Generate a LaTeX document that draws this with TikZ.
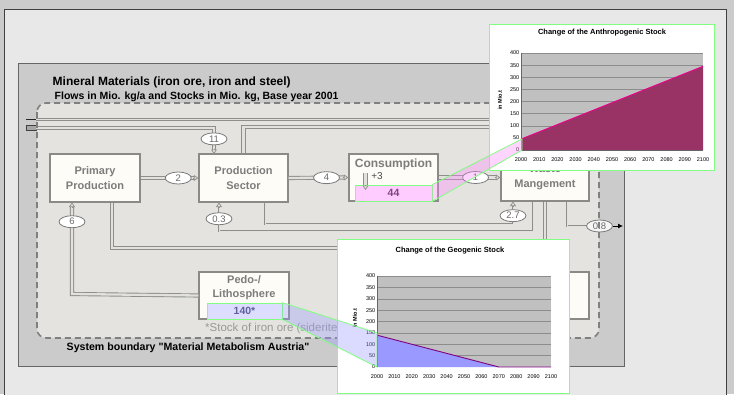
\documentclass[tikz,border=0pt]{standalone}
\usepackage{fontspec}
\setmainfont{Liberation Sans}
\newfontfamily\plainquote{Liberation Sans}
\usetikzlibrary{arrows.meta,shapes.geometric,calc}
\definecolor{bgout}{HTML}{CBCBCB}
\definecolor{panel}{HTML}{E8E8E8}
\definecolor{innerp}{HTML}{CBCBCB}
\definecolor{sysfill}{HTML}{E4E3DF}
\definecolor{sysline}{HTML}{808080}
\definecolor{boxfill}{HTML}{FDFCF7}
\definecolor{boxline}{HTML}{8A8A86}
\definecolor{boxtext}{HTML}{7C7C7C}
\definecolor{pipeline}{HTML}{8E8E8A}
\definecolor{pipefill}{HTML}{E2E1DD}
\definecolor{ellline}{HTML}{7A7A7A}
\definecolor{flowtext}{HTML}{6A6A6A}
\definecolor{hlgreen}{HTML}{80FF80}
\definecolor{pinkbox}{HTML}{FFCCFF}
\definecolor{pinkproj}{HTML}{FF88FF}
\definecolor{lavbox}{HTML}{DDDDFF}
\definecolor{lavproj}{HTML}{9999FF}
\definecolor{plotgray}{HTML}{C0C0C0}
\definecolor{gridgray}{HTML}{8C8C8C}
\definecolor{maroonfill}{HTML}{993366}
\definecolor{bluefill}{HTML}{9999FF}
\definecolor{purpleline}{HTML}{800080}
\begin{document}
\begin{tikzpicture}[x=1pt,y=-1pt,
  box/.style={draw=boxline, fill=boxfill, line width=1.3pt, align=center,
    font=\bfseries\fontsize{11}{15}\selectfont, text=boxtext, inner sep=0pt},
  boxlabel/.style={align=center, font=\bfseries\fontsize{11}{14}\selectfont, text=boxtext, inner sep=0pt},
  pipe/.style={draw=pipeline, line width=0.9pt, double=pipefill, double distance=2.3pt},
  thinpipe/.style={draw=pipeline, line width=0.6pt, double=pipefill, double distance=1pt},
  ptip/.style={draw=pipeline, line width=0.7pt, -{Triangle[length=4.5pt,width=6pt,fill=pipefill]}},
  flow/.style={ellipse, draw=ellline, fill=white, line width=0.8pt, minimum width=26pt,
    minimum height=12pt, inner sep=0pt, font=\fontsize{9.5}{10}\selectfont, text=flowtext},
  sysb/.style={draw=sysline, line width=1.6pt, dash pattern=on 6pt off 4pt, rounded corners=9pt},
  chartframe/.style={draw=hlgreen, fill=white, line width=1pt},
  clbl/.style={font=\fontsize{5.5}{6}\selectfont, inner sep=0.5pt},
  ctitle/.style={font=\bfseries\fontsize{7.5}{8}\selectfont, inner sep=0pt},
  grid line/.style={draw=gridgray, line width=0.5pt}
]
\useasboundingbox (0,0) rectangle (734,394);
\clip (0,0) rectangle (734,394);
% backgrounds
\fill[bgout] (0,0) rectangle (734,394);
\draw[draw=black!75, fill=panel, line width=0.8pt] (4,9) rectangle (726,404);
\draw[draw=black!60, fill=innerp, line width=0.8pt] (18,63) rectangle (624,366);
\fill[sysfill, rounded corners=9pt] (37,103) rectangle (599,338);
% titles
\node[anchor=west, font=\bfseries\fontsize{12}{14}\selectfont, inner sep=0pt] (title) at (52.5,82) {Mineral Materials (iron ore, iron and steel)};
\node[anchor=west, font=\bfseries\fontsize{10.5}{12}\selectfont, inner sep=0pt] (subtitle) at (54.5,96.5) {Flows in Mio. kg/a and Stocks in Mio. kg, Base year 2001};
\node[anchor=west, font=\plainquote\bfseries\fontsize{10.6}{12}\selectfont, inner sep=0pt] (sysname) at (66.5,348) {System boundary "Material Metabolism Austria"};
\node[anchor=west, font=\fontsize{11.5}{13}\selectfont, text=black!40, inner sep=0pt] (footnote) at (205,329) {*Stock of iron ore (siderite)};
% boxes
\node[box, minimum width=90pt, minimum height=48pt] (pp) at (95,178) {Primary\\Production};
\node[box, minimum width=89pt, minimum height=48pt] (ps) at (243.5,178) {Production\\Sector};
\node[box, minimum width=89pt, minimum height=47pt] (cons) at (393.5,177.5) {};
\node[box, minimum width=88pt, minimum height=47pt] (wm) at (545,177.5) {Waste\\Mangement};
\node[box, minimum width=90pt, minimum height=47pt] (pl) at (244,295.5) {};
\node[box, minimum width=88pt, minimum height=47pt] (lf) at (545,295.5) {};
\node[boxlabel, font=\bfseries\fontsize{12}{14}\selectfont] (constxt) at (393.5,164) {Consumption};
\node[boxlabel] (pltxt) at (244,288) {Pedo-/\\Lithosphere};
% coordinates for pipe ends
\coordinate (inA) at (36,119.5);
\coordinate (inB) at (36,127.8);
\coordinate (ps11) at (214,154);
\coordinate (ps03) at (219,202.5);
\coordinate (ps27) at (265,202.5);
\coordinate (pp6) at (72,202.5);
\coordinate (pp112) at (112,202.5);
\coordinate (wm27) at (513,201.5);
\coordinate (wm03) at (533,201.5);
\coordinate (wm08) at (567,201.5);
\coordinate (out08) at (623,226);
% import stubs
\draw[black!85, line width=1pt] (26,119.5) -- (inA);
\draw[draw=black!75, fill=black!35, line width=0.7pt] (26,125.5) rectangle (36,130.5);
% pipes
\draw[thinpipe] (inA) -- (580,119.5) -- (580,154);
\draw[pipe] (inB) -- (214,127.8) -- node[flow, pos=0.5] (f11) {11} ($(ps11)+(0,-4)$);
\draw[pipe] (ps.north) -- (243.5,127) -- (565,127) -- (565,154);
\draw[pipe] (pp.east) -- node[flow, pos=0.7] (f2) {2} ($(ps.west)+(-4,0)$);
\draw[pipe] (ps.east) -- node[flow, pos=0.68] (f4) {4} ($(cons.west)+(-4,0)$);
\draw[pipe] (cons.east) -- node[flow, pos=0.64] (f1) {1} ($(wm.west)+(-4,0)$);
\draw[thinpipe] (ps27) -- (265,224) -- (513,224) -- node[flow, pos=0.45] (f27) {2.7} ($(wm27)+(0,4)$);
\draw[thinpipe] (wm03) -- (533,231) -- (219,231) -- node[flow, pos=0.5] (f03) {0.3} ($(ps03)+(0,4)$);
\draw[pipe] (pl.west) -- (72,294) -- node[flow, pos=0.826] (f6) {6} ($(pp6)+(0,4)$);
\draw[pipe] (pp112) -- (112,248) -- (530,248) -- (530,272);
\draw[pipe] (545,201.5) -- (lf.north);
\draw[thinpipe] (wm08) -- (567,226) -- (587,226);
% tips
\draw[ptip] ($(ps.west)+(-5,0)$) -- (ps.west);
\draw[ptip] ($(cons.west)+(-5,0)$) -- (cons.west);
\draw[ptip] ($(wm.west)+(-5,0)$) -- (wm.west);
\draw[ptip] ($(ps11)+(0,-5)$) -- (ps11);
\draw[ptip] ($(ps03)+(0,5)$) -- (ps03);
\draw[ptip] ($(wm27)+(0,5)$) -- (wm27);
\draw[ptip] ($(pp6)+(0,5)$) -- (pp6);
% consumption inner
\node[draw=hlgreen, fill=pinkbox, line width=0.8pt, minimum width=77pt, minimum height=16pt, inner sep=0pt,
  font=\bfseries\fontsize{10.5}{12}\selectfont, text=violet!45!gray] (s44) at (393.5,193) {44};
\coordinate (c3top) at (365.5,173);
\coordinate (c3bot) at (365.5,190);
\draw[pipe] (c3top) -- ($(c3bot)+(0,-5)$);
\draw[ptip] ($(c3bot)+(0,-5)$) -- (c3bot);
\node[font=\fontsize{10}{12}\selectfont, text=black!70, inner sep=0pt] (plus3) at (377,176) {+3};
\node[draw=hlgreen, fill=lavbox, line width=0.8pt, minimum width=75pt, minimum height=16pt, inner sep=0pt,
  font=\bfseries\fontsize{10.5}{12}\selectfont, text=blue!25!gray] (s140) at (244.5,311) {140*};
% export 0.8
\node[flow, fill=white!92!gray] (f08) at (599.5,226) {0.8};
\draw[black, line width=0.8pt, -{Latex[length=5pt,width=5pt]}] (f08.east) -- (out08);
% system boundary line
\draw[sysb] (37,103) rectangle (599,338);
% anthropogenic chart
\draw[chartframe] (489,24) rectangle (714,170);
\node[ctitle] (atitle) at (602,33) {Change of the Anthropogenic Stock};
\fill[plotgray] (521,53) rectangle (703,150);
\foreach \v in {50,100,...,400} \draw[grid line] (521,{150-0.2425*\v}) -- (703,{150-0.2425*\v});
\fill[maroonfill] (521,150) -- (521,139.1) -- (703,66.3) -- (703,150) -- cycle;
\draw[magenta, line width=0.9pt] (521,139.1) -- (703,66.3);
\draw[black!60, line width=0.5pt] (521,53) -- (521,150) -- (703,150);
\foreach \v in {0,50,...,400} \node[clbl, anchor=east] (ay\v) at (520,{150-0.2425*\v}) {\v};
\foreach \i in {0,...,10}{\pgfmathtruncatemacro\yr{2000+10*\i}
  \node[clbl] (ax\i) at ({521+18.2*\i},160) {\yr};}
\node[clbl, font=\bfseries\fontsize{5.5}{6}\selectfont, rotate=90] (aytitle) at (500,100) {in Mio.t};
% geogenic chart
\draw[chartframe] (337,239) rectangle (569,393);
\node[ctitle] (gtitle) at (450,251) {Change of the Geogenic Stock};
\fill[plotgray] (377,276) rectangle (551,367);
\foreach \v in {50,100,...,400} \draw[grid line] (377,{367-0.2275*\v}) -- (551,{367-0.2275*\v});
\fill[bluefill] (377,367) -- (377,335.15) -- (498.8,367) -- cycle;
\draw[purpleline, line width=0.9pt] (377,335.15) -- (498.8,367) -- (551,367);
\draw[black!60, line width=0.5pt] (377,276) -- (377,367);
\foreach \v in {0,50,...,400} \node[clbl, anchor=east] (gy\v) at (376,{367-0.2275*\v}) {\v};
\foreach \i in {0,...,10}{\pgfmathtruncatemacro\yr{2000+10*\i}
  \node[clbl] (gx\i) at ({377+17.4*\i},377) {\yr};}
\node[clbl, font=\bfseries\fontsize{5.5}{6}\selectfont, rotate=90] (gytitle) at (355,318) {in Mio.t};
% projections
\fill[pinkproj, opacity=0.35] (s44.north east) -- (522,139) -- (522,150) -- (s44.south east) -- cycle;
\draw[hlgreen, line width=0.8pt] (s44.north east) -- (522,139) -- (522,150) -- (s44.south east);
\fill[lavproj, opacity=0.35] (s140.north east) -- (377,333) -- (377,367) -- (s140.south east) -- cycle;
\draw[hlgreen, line width=0.8pt] (s140.north east) -- (377,333) -- (377,367) -- (s140.south east);
\end{tikzpicture}
\end{document}
